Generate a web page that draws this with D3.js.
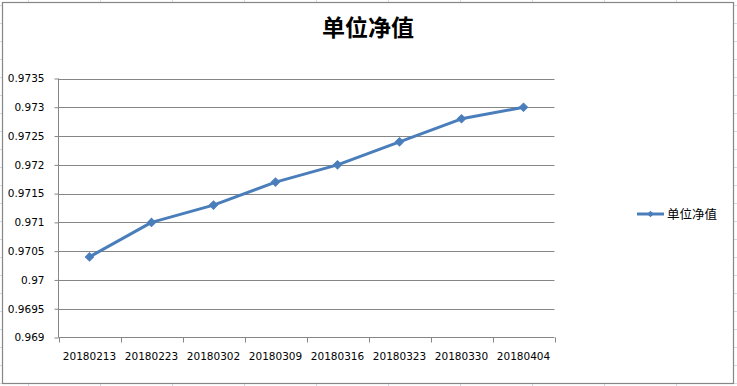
<!DOCTYPE html>
<html><head><meta charset="utf-8">
<script src="https://cdn.jsdelivr.net/npm/d3@7"></script>
<style>
html,body{margin:0;padding:0;background:#fff;}
svg{display:block;}
</style></head>
<body>
<svg id="c" width="737" height="386"></svg>
<script>
const categories = ["20180213","20180223","20180302","20180309","20180316","20180323","20180330","20180404"];
const seriesName = "单位净值";
const values = [0.9704, 0.9710, 0.9713, 0.9717, 0.9720, 0.9724, 0.9728, 0.9730];
const yTicks = [0.969, 0.9695, 0.97, 0.9705, 0.971, 0.9715, 0.972, 0.9725, 0.973, 0.9735];
const yTickLabels = ["0.969","0.9695","0.97","0.9705","0.971","0.9715","0.972","0.9725","0.973","0.9735"];

const W = 737, H = 386;
const svg = d3.select("#c");

// spreadsheet cell grid behind the chart
const sheet = svg.append("g");
d3.range(28, W, 72).forEach(x => sheet.append("line").attr("x1", x + .5).attr("x2", x + .5).attr("y1", 0).attr("y2", H).attr("stroke", "#d4dbe8"));
d3.range(5, H, 18).forEach(y => sheet.append("line").attr("y1", y + .5).attr("y2", y + .5).attr("x1", 0).attr("x2", W).attr("stroke", "#d4dbe8"));

// chart area
svg.append("rect").attr("x", 2.5).attr("y", 2.5).attr("width", 731).attr("height", 381)
  .attr("fill", "#fff").attr("stroke", "#868686").attr("stroke-width", 1.2);

const plot = {left: 58.5, right: 554.5, top: 78.5, bottom: 337.5};

const x = d3.scaleBand().domain(categories).range([plot.left, plot.right]);
const y = d3.scaleLinear().domain([0.969, 0.9735]).range([plot.bottom, plot.top]);

// horizontal gridlines
svg.append("g").selectAll("line").data(yTicks.slice(1)).join("line")
  .attr("x1", plot.left).attr("x2", plot.right)
  .attr("y1", d => Math.round(y(d)) + .5).attr("y2", d => Math.round(y(d)) + .5)
  .attr("stroke", "#868686").attr("stroke-width", 1);

// y axis
const yAxis = d3.axisLeft(y).tickValues(yTicks).tickFormat((d, i) => yTickLabels[i]).tickSize(4).tickPadding(10);
const gy = svg.append("g").attr("transform", `translate(${plot.left},0)`).call(yAxis);
gy.select(".domain").attr("stroke", "#868686").attr("d", `M0,${plot.top}V${plot.bottom}`);
gy.selectAll(".tick line").attr("stroke", "#868686");
gy.selectAll(".tick text").attr("font-family", "DejaVu Sans").attr("font-size", "10.5px").attr("fill", "#000");

// x axis
const xAxis = d3.axisBottom(x).tickSize(0).tickPadding(15);
const gx = svg.append("g").attr("transform", `translate(0,${plot.bottom})`).call(xAxis);
gx.select(".domain").attr("stroke", "#868686").attr("d", `M${plot.left},0H${plot.right}`);
gx.selectAll(".tick text").attr("font-family", "DejaVu Sans").attr("font-size", "10.5px").attr("fill", "#000");
// category boundary tick marks
const bounds = categories.map(c => x(c)).concat([x(categories[categories.length - 1]) + x.bandwidth()]);
gx.append("g").selectAll("line").data(bounds).join("line")
  .attr("x1", d => Math.round(d) + .5).attr("x2", d => Math.round(d) + .5)
  .attr("y1", 0).attr("y2", 5).attr("stroke", "#868686");

// series line
const color = "#4a7ebb";
const line = d3.line().x((d, i) => x(categories[i]) + x.bandwidth() / 2).y(d => y(d));
svg.append("path").datum(values).attr("d", line)
  .attr("fill", "none").attr("stroke", color).attr("stroke-width", 3).attr("stroke-linejoin", "round");

const diamond = d3.symbol().type(d3.symbolSquare).size(34);
svg.append("g").selectAll("path").data(values).join("path")
  .attr("d", diamond)
  .attr("transform", (d, i) => `translate(${x(categories[i]) + x.bandwidth() / 2},${y(d)}) rotate(45)`)
  .attr("fill", color).attr("stroke", color).attr("stroke-width", 1);

// title
svg.append("text").attr("x", 368).attr("y", 36).attr("text-anchor", "middle")
  .attr("font-family", "Noto Sans CJK SC").attr("font-weight", "bold").attr("font-size", "23px")
  .attr("fill", "#000").text(seriesName);

// legend
const lg = svg.append("g");
lg.append("line").attr("x1", 637).attr("x2", 664).attr("y1", 214).attr("y2", 214)
  .attr("stroke", color).attr("stroke-width", 3);
lg.append("path").attr("d", d3.symbol().type(d3.symbolSquare).size(22)).attr("transform", "translate(650.5,214) rotate(45)").attr("fill", color);
lg.append("text").attr("x", 667).attr("y", 214).attr("dy", "0.36em")
  .attr("font-family", "Noto Sans CJK SC").attr("font-size", "12.5px").attr("fill", "#000").text(seriesName);
</script>
</body></html>
